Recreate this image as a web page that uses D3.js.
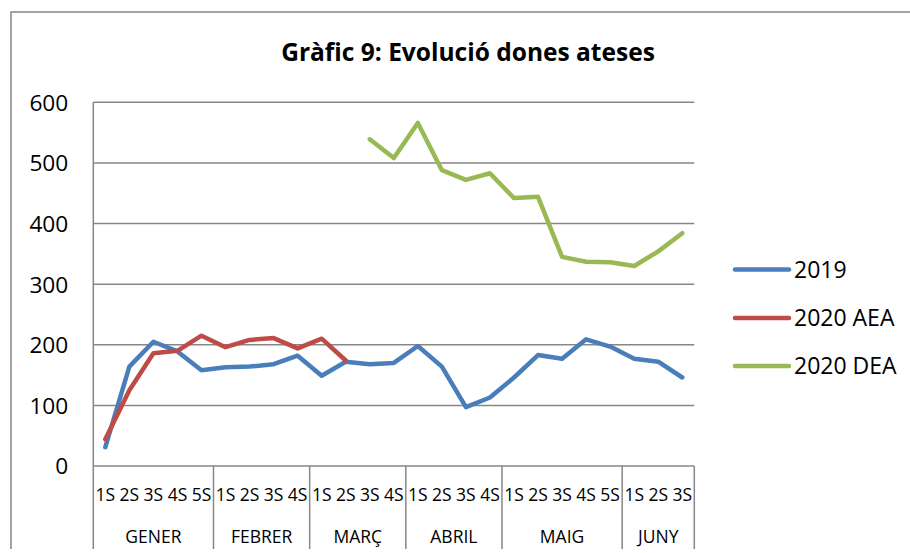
<!DOCTYPE html>
<html>
<head>
<meta charset="utf-8">
<script src="https://cdn.jsdelivr.net/npm/d3@7"></script>
<style>
  html, body { margin: 0; padding: 0; background: #fff; }
  svg { display: block; font-family: "Open Sans", sans-serif; }
</style>
</head>
<body>
<svg id="chart" width="910" height="553"></svg>
<script>
// ---- data ----
const title = "Gràfic 9: Evolució dones ateses";
const months = ["GENER", "FEBRER", "MARÇ", "ABRIL", "MAIG", "JUNY"];
const weeksPerMonth = [5, 4, 4, 4, 5, 3];
const weekLabels = [
  "1S","2S","3S","4S","5S",
  "1S","2S","3S","4S",
  "1S","2S","3S","4S",
  "1S","2S","3S","4S",
  "1S","2S","3S","4S","5S",
  "1S","2S","3S"
];
const s2019 = [31,164,205,189,158,163,164,168,182,149,172,168,170,198,164,97,113,146,183,177,209,197,177,172,146];
const s2020AEA = [44,125,186,190,215,196,208,211,194,210,174,null,null,null,null,null,null,null,null,null,null,null,null,null,null];
const s2020DEA = [null,null,null,null,null,null,null,null,null,null,null,539,508,566,488,472,483,442,444,345,337,336,330,354,384];
const seriesNames = ["2019", "2020 AEA", "2020 DEA"];
const seriesColors = ["#4A7EBB", "#BE4B48", "#98B954"];
const yTicks = [0, 100, 200, 300, 400, 500, 600];

(function () {
// ---- layout ----
const svg = d3.select("#chart");
const pLeft = 93.3, pRight = 694.3, pTop = 102.3, pBottom = 466;
const axisBottom = 549;
const gridColor = "#878787";

const idx = d3.range(weekLabels.length);
const x = d3.scaleBand().domain(idx).range([pLeft, pRight]).padding(0);
const y = d3.scaleLinear().domain([0, 600]).range([pBottom, pTop]);

// outer border (only partially visible)
svg.append("path")
  .attr("d", `M11,${axisBottom} L11,12 L912,12`)
  .attr("fill", "none").attr("stroke", gridColor).attr("stroke-width", 1.5);

// title
const t = svg.append("text")
  .attr("x", 468).attr("y", 61)
  .attr("text-anchor", "middle")
  .attr("font-weight", "bold")
  .attr("font-size", 22)
  .attr("fill", "#000")
  .text(title);
const tw = t.node().getComputedTextLength();
t.attr("font-size", 22 * 374 / tw);

// grid lines
svg.append("g").selectAll("line").data(yTicks.filter(d => d > 0)).join("line")
  .attr("x1", pLeft).attr("x2", pRight)
  .attr("y1", d => y(d)).attr("y2", d => y(d))
  .attr("stroke", gridColor).attr("stroke-width", 1.5);

// y axis via d3 axis
const yAxis = d3.axisLeft(y).tickValues(yTicks).tickSize(0).tickPadding(25);
const gy = svg.append("g").attr("transform", `translate(${pLeft},0)`).call(yAxis);
gy.select(".domain").remove();
gy.selectAll("text").attr("font-size", 22.7).attr("fill", "#000")
  .attr("font-family", "Open Sans, sans-serif").attr("dy", "0.35em");

// vertical axis line
svg.append("line").attr("x1", pLeft).attr("x2", pLeft).attr("y1", pTop).attr("y2", axisBottom)
  .attr("stroke", gridColor).attr("stroke-width", 1.5);
// baseline
svg.append("line").attr("x1", pLeft).attr("x2", pRight).attr("y1", pBottom).attr("y2", pBottom)
  .attr("stroke", gridColor).attr("stroke-width", 1.5);

// month group dividers
const bounds = [0];
weeksPerMonth.forEach((n, i) => bounds.push(bounds[i] + n));
const step = x.bandwidth();
const boundX = b => pLeft + b * step;
svg.append("g").selectAll("line").data(bounds.slice(1)).join("line")
  .attr("x1", d => boundX(d)).attr("x2", d => boundX(d))
  .attr("y1", pBottom).attr("y2", axisBottom)
  .attr("stroke", gridColor).attr("stroke-width", 1.5);

// week labels
svg.append("g").selectAll("text").data(idx).join("text")
  .attr("x", i => x(i) + step / 2).attr("y", 500.5)
  .attr("text-anchor", "middle").attr("font-size", 17.5).attr("fill", "#000")
  .text(i => weekLabels[i]);

// month labels
svg.append("g").selectAll("text").data(months).join("text")
  .attr("x", (d, i) => (boundX(bounds[i]) + boundX(bounds[i + 1])) / 2)
  .attr("y", 543)
  .attr("text-anchor", "middle").attr("font-size", 17.5).attr("fill", "#000")
  .text(d => d);

// lines
const allSeries = [s2019, s2020AEA, s2020DEA];
const line = d3.line()
  .defined(d => d != null)
  .x((d, i) => x(i) + step / 2)
  .y(d => y(d));
allSeries.forEach((s, k) => {
  svg.append("path")
    .attr("d", line(s))
    .attr("fill", "none")
    .attr("stroke", seriesColors[k])
    .attr("stroke-width", 4.5)
    .attr("stroke-linejoin", "round")
    .attr("stroke-linecap", "round");
});

// legend
const legY = [269.5, 318, 366];
const leg = svg.append("g");
seriesNames.forEach((n, k) => {
  leg.append("line")
    .attr("x1", 735).attr("x2", 789).attr("y1", legY[k]).attr("y2", legY[k])
    .attr("stroke", seriesColors[k]).attr("stroke-width", 4.5).attr("stroke-linecap", "round");
  leg.append("text")
    .attr("x", 794).attr("y", legY[k]).attr("dy", "0.35em")
    .attr("font-size", 23).attr("fill", "#000")
    .text(n);
});
})();
</script>
</body>
</html>
